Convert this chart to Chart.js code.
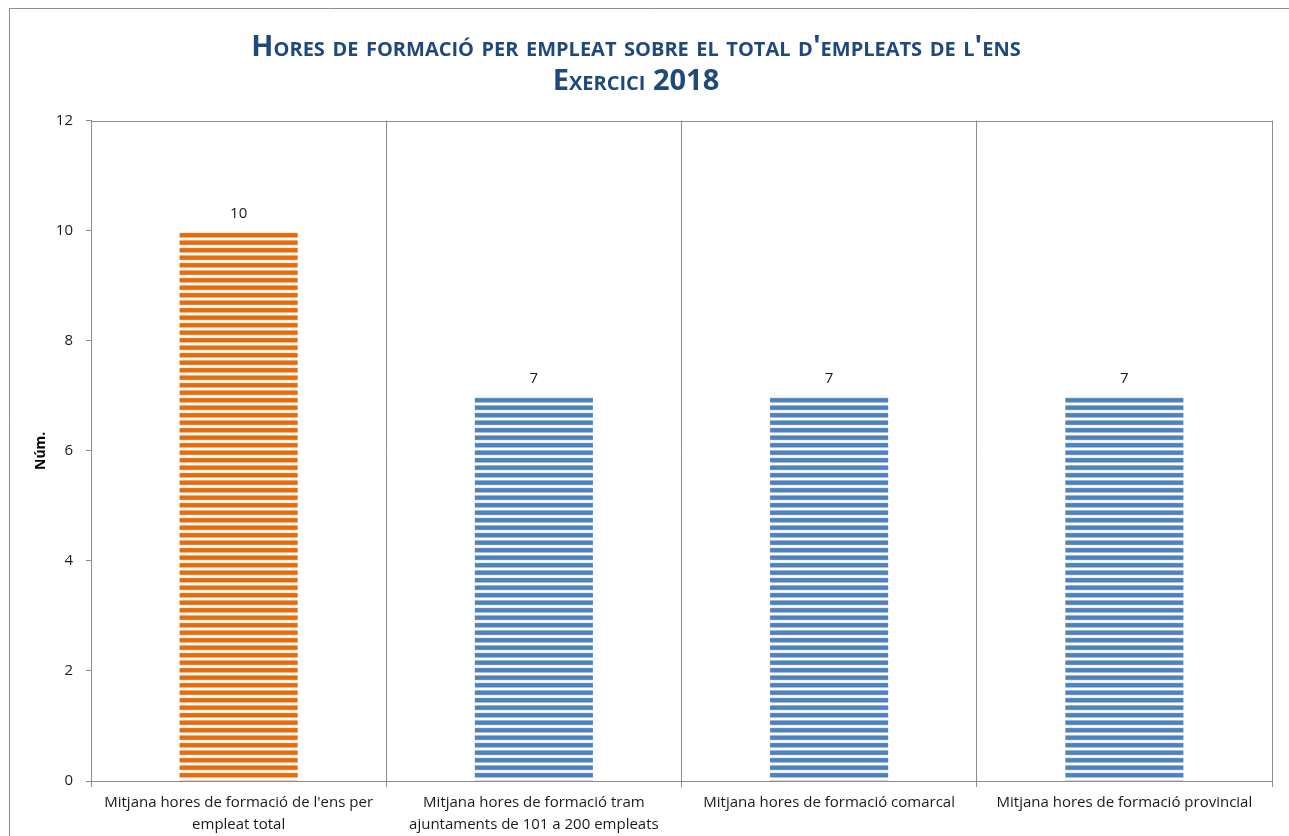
<!DOCTYPE html>
<html>
<head>
<meta charset="utf-8">
<script src="https://cdn.jsdelivr.net/npm/chart.js@4.4.1/dist/chart.umd.min.js"></script>
<style>
  html, body { margin: 0; padding: 0; background: #fff; overflow: hidden; }
</style>
</head>
<body>
<canvas id="grafic" width="1289" height="836"></canvas>
<script>
const categories = [
    ["Mitjana hores de formació de l'ens per", "empleat total"],
    ["Mitjana hores de formació tram", "ajuntaments de 101 a 200 empleats"],
    ["Mitjana hores de formació comarcal"],
    ["Mitjana hores de formació provincial"]
];
const hores = [10, 7, 7, 7];
const colorsBarres = ['#E46C0A', '#4F81BD', '#4F81BD', '#4F81BD'];
const titol = ["Hores de formació per empleat sobre el total d'empleats de l'ens", "Exercici 2018"];

const ctx = document.getElementById('grafic').getContext('2d');

// ratllat horitzontal com l'original d'Excel
function ratllat(color) {
    const c = document.createElement('canvas');
    c.width = 8;
    c.height = 15;
    const g = c.getContext('2d');
    g.fillStyle = color;
    g.globalAlpha = 0.3;
    g.fillRect(0, 0, 8, 5.4);
    g.fillRect(0, 7.5, 8, 5.4);
    g.globalAlpha = 1;
    g.fillRect(0, 0.6, 8, 4.2);
    g.fillRect(0, 8.1, 8, 4.2);
    return ctx.createPattern(c, 'repeat');
}

const vora = {
    id: 'vora',
    beforeDraw(chart) {
        const c = chart.ctx;
        c.save();
        c.strokeStyle = '#8c8c8c';
        c.lineWidth = 1;
        c.beginPath();
        c.moveTo(9.5, 900);
        c.lineTo(9.5, 8.5);
        c.lineTo(1400, 8.5);
        c.stroke();
        c.restore();
    },
    afterDraw(chart) {
        const a = chart.chartArea;
        const c = chart.ctx;
        c.save();
        c.strokeStyle = '#8c8c8c';
        c.lineWidth = 1;
        c.strokeRect(Math.round(a.left) + 0.5, Math.round(a.top) + 0.5, Math.round(a.right - a.left), Math.round(a.bottom - a.top));
        c.restore();
    }
};

const etiquetes = {
    id: 'etiquetes',
    afterDatasetsDraw(chart) {
        const c = chart.ctx;
        c.save();
        c.font = '15px "Open Sans"';
        c.fillStyle = '#1a1a1a';
        c.textAlign = 'center';
        c.textBaseline = 'middle';
        chart.getDatasetMeta(0).data.forEach((bar, i) => {
            c.fillText(hores[i], bar.x, bar.y - 17);
        });
        c.restore();
    }
};

const grafic = new Chart(ctx, {
    type: 'bar',
    data: {
        labels: categories,
        datasets: [{
            data: hores,
            backgroundColor: colorsBarres.map(ratllat),
            borderWidth: 0,
            categoryPercentage: 1,
            barPercentage: 0.4
        }]
    },
    options: {
        responsive: false,
        animation: false,
        layout: { padding: { left: 0, right: 17, top: 0, bottom: 0 } },
        plugins: {
            legend: { display: false },
            tooltip: { enabled: false },
            title: {
                display: true,
                text: titol,
                color: '#1F497D',
                font: { family: '"Open Sans"', size: 29, weight: 'small-caps bold', lineHeight: 1.2 },
                padding: { top: 30, bottom: 21 }
            }
        },
        scales: {
            x: {
                grid: { color: '#8c8c8c', tickLength: 6, offset: true },
                border: { color: '#8c8c8c' },
                ticks: {
                    color: '#1a1a1a',
                    font: { family: '"Open Sans"', size: 15, lineHeight: 1.45 },
                    padding: 5,
                    maxRotation: 0,
                    autoSkip: false
                },
                afterFit(scale) { scale.height = 55; }
            },
            y: {
                min: 0,
                max: 12,
                grid: { drawOnChartArea: false, color: '#8c8c8c', tickLength: 5 },
                border: { color: '#8c8c8c' },
                ticks: {
                    stepSize: 2,
                    color: '#1a1a1a',
                    font: { family: '"Open Sans"', size: 15 },
                    padding: 13
                },
                title: {
                    display: true,
                    text: 'Núm.',
                    color: '#000',
                    font: { family: '"Open Sans"', size: 14, weight: 'bold' },
                    padding: { top: 33, bottom: 0 }
                },
                afterFit(scale) { scale.width = 91; }
            }
        }
    },
    plugins: [vora, etiquetes]
});
</script>
</body>
</html>
